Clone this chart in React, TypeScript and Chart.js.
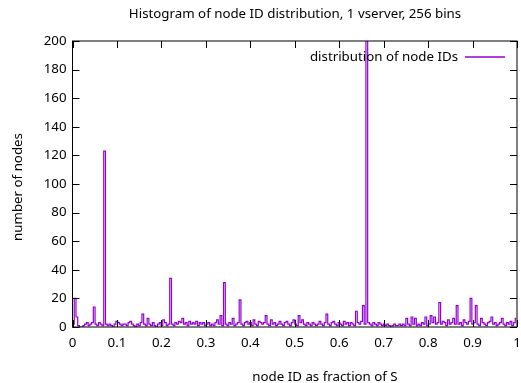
import React, { useEffect, useRef } from "react";
import { Chart, registerables } from "chart.js";

Chart.register(...registerables);

// Histogram counts, 256 bins split into four quarters of the ID space
const binsQ1 = [
  2, 20, 7, 1, 0, 0, 1, 2, 3, 1,
  2, 3, 14, 2, 1, 3, 2, 1, 123, 2,
  1, 2, 1, 0, 2, 4, 3, 2, 1, 2,
  2, 1, 3, 4, 2, 1, 0, 2, 1, 3,
  9, 2, 1, 6, 2, 1, 3, 1, 0, 2,
  3, 1, 5, 3, 1, 2, 34, 2, 1, 3,
  2, 4, 3, 6,
];
const binsQ2 = [
  2, 3, 1, 4, 2, 3,
  2, 4, 1, 3, 2, 3, 1, 2, 3, 1,
  2, 1, 3, 5, 2, 8, 1, 31, 2, 1,
  3, 2, 6, 1, 2, 3, 19, 2, 1, 3,
  4, 2, 3, 1, 5, 2, 1, 4, 3, 2,
  3, 8, 2, 1, 5, 2, 3, 1, 2, 4,
  2, 1, 3, 4, 2, 1, 3, 5,
];
const binsQ3 = [
  2, 1,
  8, 3, 5, 2, 1, 3, 2, 1, 3, 2,
  1, 2, 4, 2, 1, 3, 9, 2, 1, 3,
  4, 2, 1, 3, 2, 1, 4, 2, 3, 1,
  3, 2, 1, 11, 3, 2, 4, 15, 2, 250,
  3, 2, 1, 3, 2, 1, 3, 2, 1, 2,
  1, 2, 1, 0, 1, 2, 1, 1, 2, 1,
  2, 1,
];
const binsQ4 = [
  6, 2, 1, 7, 2, 6, 1, 2,
  1, 3, 2, 7, 1, 2, 8, 3, 7, 2,
  3, 17, 2, 4, 3, 1, 5, 2, 3, 6,
  2, 15, 2, 3, 1, 5, 3, 2, 4, 20,
  2, 3, 15, 2, 1, 6, 3, 2, 1, 3,
  4, 7, 2, 3, 1, 2, 3, 6, 2, 1,
  3, 2, 4, 1, 3, 6,
];

const xTickValues = [0, 0.1, 0.2, 0.3, 0.4, 0.5, 0.6, 0.7, 0.8, 0.9, 1];
const yTickValues = [0, 20, 40, 60, 80, 100, 120, 140, 160, 180, 200];

const titleText = "Histogram of node ID distribution, 1 vserver, 256 bins";
const xLabel = "node ID as fraction of S";
const yLabel = "number of nodes";
const seriesLabel = "distribution of node IDs";

const FONT = "'Noto Sans', 'DejaVu Sans', sans-serif";
const FONT_SIZE = 13.3;
const LINE_COLOR = "#9400d3";

export default function App() {
  const ref = useRef<HTMLCanvasElement | null>(null);

  useEffect(() => {
    const canvas = ref.current;
    if (!canvas) return;
    const counts = [...binsQ1, ...binsQ2, ...binsQ3, ...binsQ4];
    const n = counts.length;
    const points = counts.map((c, i) => ({ x: (i + 0.5) / n, y: c }));

    const framePlugin = {
      id: "gnuframe",
      afterDatasetsDraw(chart: any) {
        const { ctx, chartArea } = chart;
        const { left, right, top, bottom } = chartArea;
        const xs = chart.scales.x;
        const ys = chart.scales.y;
        ctx.save();
        ctx.strokeStyle = "#000";
        ctx.lineWidth = 1;
        const tl = 7;
        ctx.beginPath();
        xTickValues.forEach((v) => {
          const px = Math.round(xs.getPixelForValue(v)) + 0.5;
          ctx.moveTo(px, bottom);
          ctx.lineTo(px, bottom - tl);
          ctx.moveTo(px, top);
          ctx.lineTo(px, top + tl);
        });
        yTickValues.forEach((v) => {
          const py = Math.round(ys.getPixelForValue(v)) + 0.5;
          ctx.moveTo(left, py);
          ctx.lineTo(left + tl, py);
          ctx.moveTo(right, py);
          ctx.lineTo(right - tl, py);
        });
        ctx.stroke();
        ctx.strokeRect(left, top, right - left, bottom - top);

        // legend
        ctx.fillStyle = "#000";
        ctx.font = `${FONT_SIZE}px ${FONT}`;
        ctx.textAlign = "right";
        ctx.textBaseline = "middle";
        ctx.fillText(seriesLabel, 458, 57);
        ctx.strokeStyle = LINE_COLOR;
        ctx.lineWidth = 1.5;
        ctx.beginPath();
        ctx.moveTo(465, 57);
        ctx.lineTo(505, 57);
        ctx.stroke();

        // title & axis labels
        ctx.fillStyle = "#000";
        ctx.textAlign = "center";
        ctx.fillText(titleText, 295, 14);
        ctx.fillText(xLabel, 325, 377);
        ctx.translate(18, (top + bottom) / 2 + 3);
        ctx.rotate(-Math.PI / 2);
        ctx.fillText(yLabel, 0, 0);
        ctx.restore();
      },
    };

    const chart = new Chart(canvas, {
      type: "line",
      data: {
        datasets: [
          {
            label: seriesLabel,
            data: points,
            borderColor: LINE_COLOR,
            borderWidth: 1.2,
            pointRadius: 0,
            stepped: "middle",
            fill: false,
          },
        ],
      },
      options: {
        responsive: false,
        animation: false,
        devicePixelRatio: 1,
        layout: { padding: { left: 0, right: 4, top: 41, bottom: 0 } },
        plugins: {
          legend: { display: false },
          title: { display: false },
          tooltip: { enabled: false },
        },
        scales: {
          x: {
            type: "linear",
            min: 0,
            max: 1,
            grid: { display: false, drawTicks: false, tickLength: 0 },
            border: { display: false },
            afterBuildTicks: (scale: any) => {
              scale.ticks = xTickValues.map((v) => ({ value: v }));
            },
            afterFit: (scale: any) => {
              scale.height = 56;
              scale.paddingLeft = 0;
              scale.paddingRight = 0;
            },
            ticks: {
              color: "#000",
              font: { family: FONT, size: FONT_SIZE },
              padding: 8,
              maxRotation: 0,
              autoSkip: false,
              callback: (v: any) => String(Math.round(Number(v) * 10) / 10),
            },
          },
          y: {
            type: "linear",
            min: 0,
            max: 200,
            grid: { display: false, drawTicks: false, tickLength: 0 },
            border: { display: false },
            afterBuildTicks: (scale: any) => {
              scale.ticks = yTickValues.map((v) => ({ value: v }));
            },
            afterFit: (scale: any) => {
              scale.width = 72.5;
              scale.paddingTop = 0;
              scale.paddingBottom = 0;
            },
            ticks: {
              color: "#000",
              font: { family: FONT, size: FONT_SIZE },
              padding: 6,
              autoSkip: false,
            },
          },
        },
      },
      plugins: [framePlugin],
    });
    return () => chart.destroy();
  }, []);

  return (
    <div style={{ position: "fixed", left: 0, top: 0, width: 521, height: 383, background: "#fff" }}>
      <canvas ref={ref} width={521} height={383} style={{ display: "block" }} />
    </div>
  );
}
